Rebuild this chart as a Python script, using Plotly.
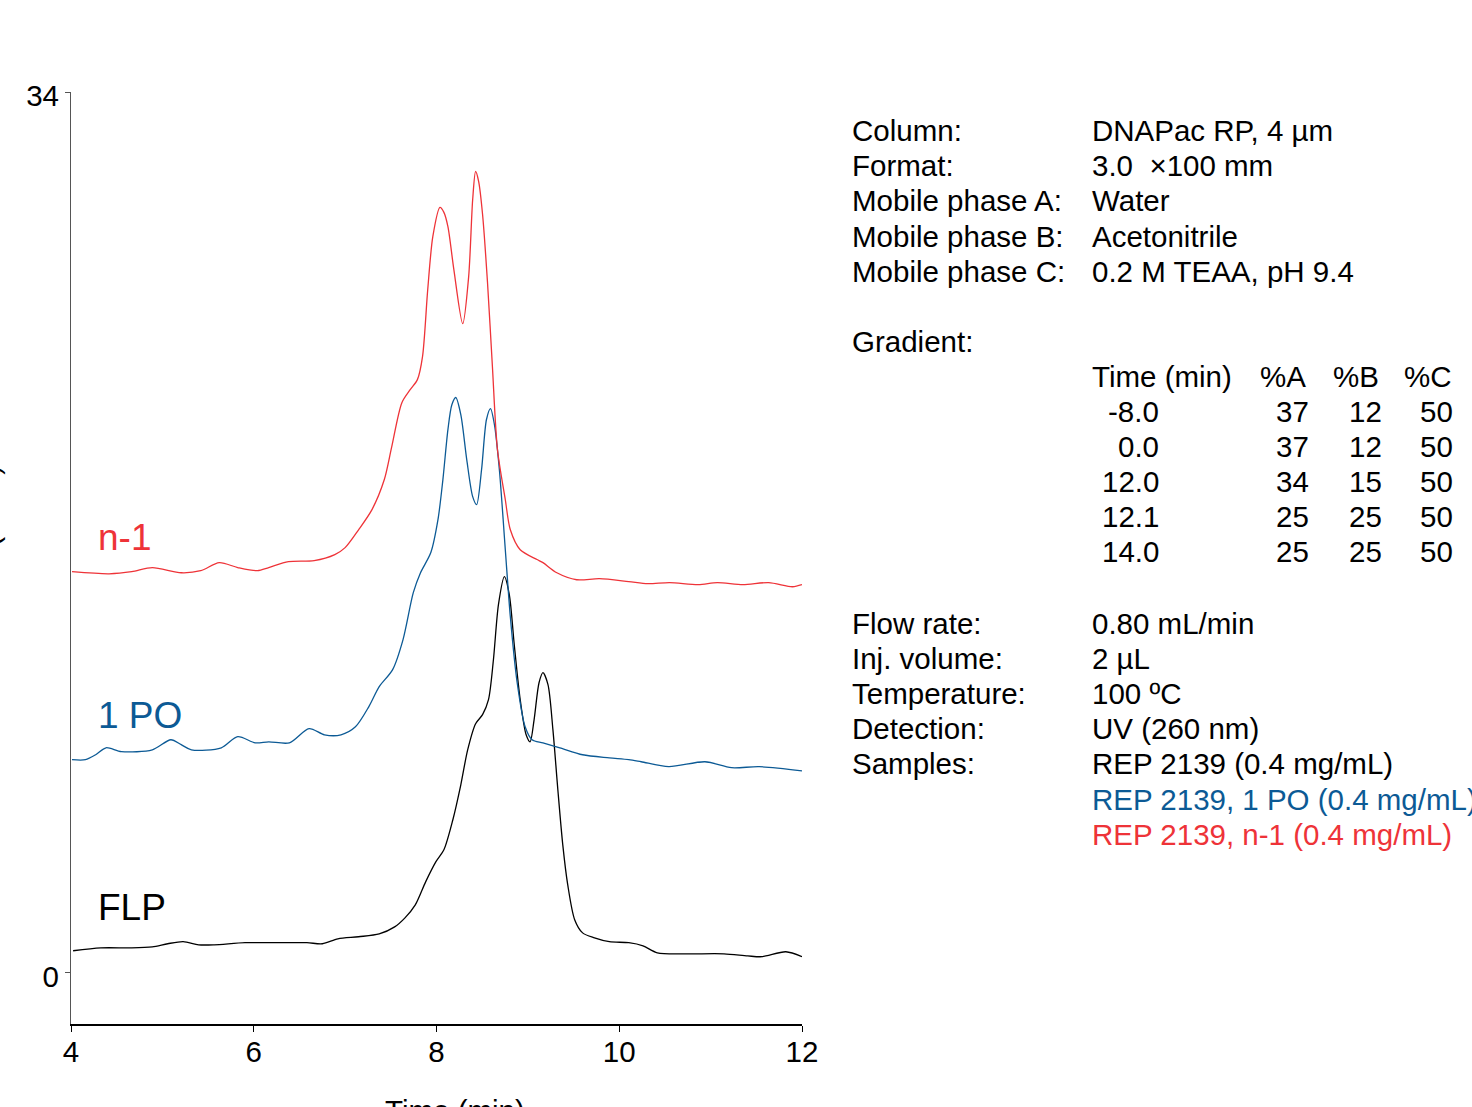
import plotly.graph_objects as go

# ---------------- data (times taken against its tick labels) ----------------
flp_time = [4.023, 4.327, 4.665, 4.890, 5.059, 5.228, 5.397, 5.566, 5.904, 6.243, 6.582, 6.751, 6.921, 7.147,
            7.373, 7.542, 7.655, 7.768, 7.881, 7.994, 8.081, 8.179, 8.266, 8.341, 8.428, 8.504, 8.569, 8.623,
            8.678, 8.743, 8.797, 8.851, 8.916, 8.981, 9.024, 9.068, 9.122, 9.165, 9.220, 9.274, 9.328, 9.382,
            9.436, 9.512, 9.599, 9.729, 9.892, 10.104, 10.260, 10.417, 10.729, 11.146, 11.406, 11.563, 11.823,
            12.000]
flp_abs = [0.83, 0.94, 0.94, 0.98, 1.10, 1.18, 1.06, 1.06, 1.14, 1.14, 1.14, 1.10, 1.29, 1.37,
           1.48, 1.75, 2.10, 2.60, 3.49, 4.27, 4.73, 5.89, 7.24, 8.59, 9.60, 9.95, 10.53, 12.07,
           14.20, 15.28, 14.58, 12.65, 10.53, 9.17, 8.90, 9.75, 11.18, 11.57, 11.11, 9.37, 7.05, 4.92,
           3.38, 2.03, 1.52, 1.33, 1.18, 1.14, 1.02, 0.75, 0.71, 0.71, 0.63, 0.60, 0.79,
           0.60]

po_time = [4.011, 4.158, 4.270, 4.383, 4.552, 4.890, 5.093, 5.206, 5.318, 5.645, 5.825, 6.017, 6.164, 6.390,
           6.605, 6.774, 6.955, 7.113, 7.260, 7.373, 7.520, 7.633, 7.746, 7.825, 7.938, 8.016, 8.070, 8.125,
           8.168, 8.211, 8.266, 8.331, 8.396, 8.439, 8.493, 8.547, 8.591, 8.634, 8.688, 8.753, 8.808, 8.883,
           8.970, 9.046, 9.165, 9.350, 9.599, 9.892, 10.104, 10.240, 10.542, 10.938, 11.229, 11.531, 12.000]
po_abs = [8.21, 8.21, 8.40, 8.67, 8.52, 8.59, 8.98, 8.79, 8.59, 8.67, 9.10, 8.86, 8.90, 8.86,
          9.41, 9.17, 9.17, 9.48, 10.26, 11.03, 11.69, 12.84, 14.66, 15.43, 16.21, 17.48, 19.03, 20.96,
          21.92, 22.20, 21.54, 19.80, 18.37, 18.06, 19.41, 21.35, 21.77, 21.15, 19.41, 16.32, 13.73, 11.18,
          9.48, 8.98, 8.86, 8.67, 8.40, 8.28, 8.21, 8.13, 7.94, 8.13, 7.90, 7.94, 7.78]

n1_time = [4.011, 4.417, 4.665, 4.890, 5.206, 5.420, 5.623, 5.825, 6.040, 6.164, 6.379, 6.661, 6.887, 7.000,
           7.147, 7.294, 7.429, 7.508, 7.621, 7.712, 7.791, 7.847, 7.904, 7.960, 8.038, 8.081, 8.125, 8.190,
           8.287, 8.352, 8.396, 8.428, 8.461, 8.504, 8.558, 8.612, 8.667, 8.753, 8.808, 8.916, 9.100,
           9.165, 9.317, 9.534, 9.783, 10.104, 10.313, 10.552, 10.865, 11.073, 11.354, 11.635, 11.896, 12.000]
n1_abs = [15.47, 15.39, 15.47, 15.63, 15.43, 15.51, 15.82, 15.63, 15.51, 15.63, 15.86, 15.90, 16.13, 16.40,
          17.09, 17.87, 19.03, 20.26, 22.00, 22.50, 22.89, 23.78, 26.37, 28.42, 29.54, 29.35, 28.80, 27.14,
          25.05, 26.87, 29.85, 30.93, 30.55, 29.28, 26.65, 23.39, 20.19, 18.25, 17.09, 16.32, 15.94,
          15.82, 15.43, 15.16, 15.20, 15.09, 15.01, 15.05, 14.97, 15.05, 14.97, 15.05, 14.89, 14.97]

x_ticks = [4, 6, 8, 10, 12]
y_ticks = [0, 34]

trace_labels = ["FLP", "1 PO", "n-1"]
trace_label_pos = [(4.27, 2.5), (4.27, 9.9), (4.27, 16.8)]

cond_labels = ["Column:", "Format:", "Mobile phase A:", "Mobile phase B:", "Mobile phase C:"]
cond_values = ["DNAPac RP, 4 µm", "3.0  \u00d7100 mm", "Water", "Acetonitrile", "0.2 M TEAA, pH 9.4"]

grad_time = ["-8.0", "0.0", "12.0", "12.1", "14.0"]
grad_A = ["37", "37", "34", "25", "25"]
grad_B = ["12", "12", "15", "25", "25"]
grad_C = ["50", "50", "50", "50", "50"]

run_labels = ["Flow rate:", "Inj. volume:", "Temperature:", "Detection:", "Samples:"]
run_values = ["0.80 mL/min", "2 µL", "100 ºC", "UV (260 nm)", "REP 2139 (0.4 mg/mL)"]
sample_extra = ["REP 2139, 1 PO (0.4 mg/mL)", "REP 2139, n-1 (0.4 mg/mL)"]

# ---------------- styling ----------------
BLACK = "#000000"
BLUE = "#0C5A95"
RED = "#EE3338"
FONT = "Arial, 'Liberation Sans', sans-serif"
W, H = 1472, 1107
L, R, T, B = 71, 670, 92, 83
PW, PH = W - L - R, H - T - B


def px_x(px):
    return (px - L) / PW


def px_y(py):
    return (H - B - py) / PH


fig = go.Figure()
for t, a, c in [(flp_time, flp_abs, BLACK), (po_time, po_abs, BLUE), (n1_time, n1_abs, RED)]:
    fig.add_trace(go.Scatter(x=t, y=a, mode="lines",
                             line=dict(color=c, width=1.3, shape="spline", smoothing=0.8),
                             showlegend=False, hoverinfo="skip"))

ann = []
for lab, (tx, ty), c in zip(trace_labels, trace_label_pos, [BLACK, BLUE, RED]):
    ann.append(dict(x=tx, y=ty, xref="x", yref="y", text=lab, showarrow=False,
                    xanchor="left", yanchor="middle", font=dict(size=37, color=c, family=FONT)))

FS = 29.5
COL1, COL2 = 850, 1090


def txt(px, py, s, anchor="left", color=BLACK):
    ann.append(dict(x=px_x(px), y=px_y(py), xref="paper", yref="paper", text=s, showarrow=False,
                    xanchor=anchor, yanchor="middle", font=dict(size=FS, color=color, family=FONT)))


row_y = [130, 165.5, 200.5, 236, 271]
for yy, lab, val in zip(row_y, cond_labels, cond_values):
    txt(COL1, yy, lab)
    txt(COL2, yy, val)

txt(COL1, 341, "Gradient:")
txt(COL2, 376, "Time (min)")
txt(1308, 376, "%A", "right")
txt(1381, 376, "%B", "right")
txt(1454, 376, "%C", "right")
g_y = [411.5, 446.5, 481.5, 516.5, 551.5]
for yy, gt, ga, gb, gc in zip(g_y, grad_time, grad_A, grad_B, grad_C):
    txt(1161, yy, gt, "right")
    txt(1311, yy, ga, "right")
    txt(1384, yy, gb, "right")
    txt(1455, yy, gc, "right")

r_y = [623, 658, 693, 728, 763.5]
for yy, lab, val in zip(r_y, run_labels, run_values):
    txt(COL1, yy, lab)
    txt(COL2, yy, val)
txt(COL2, 799, sample_extra[0], color=BLUE)
txt(COL2, 834, sample_extra[1], color=RED)

# axis titles (mostly clipped by the page edge in the original)
ann.append(dict(x=px_x(455), y=px_y(1092), xref="paper", yref="paper", text="Time (min)",
                showarrow=False, xanchor="center", yanchor="top",
                font=dict(size=FS, color=BLACK, family=FONT)))
ann.append(dict(x=px_x(6), y=px_y(585), xref="paper", yref="paper", text="Absorbance (mAU)",
                showarrow=False, xanchor="right", yanchor="middle", textangle=-90,
                font=dict(size=28, color=BLACK, family=FONT)))

fig.update_layout(
    width=W, height=H,
    margin=dict(l=L, r=R, t=T, b=B, pad=0),
    plot_bgcolor="white", paper_bgcolor="white",
    font=dict(family=FONT, size=FS, color=BLACK),
    annotations=ann,
    xaxis=dict(range=[4, 12], tickvals=x_ticks, ticktext=[str(v) for v in x_ticks],
               showgrid=False, zeroline=False, showline=True, linecolor="#000000", linewidth=1.5,
               ticks="outside", ticklen=6, tickwidth=1, tickcolor="#000000",
               ticklabelstandoff=-5, tickfont=dict(size=FS, family=FONT, color=BLACK)),
    yaxis=dict(range=[-2.0, 34.0], tickvals=y_ticks, ticktext=[str(v) for v in y_ticks],
               showgrid=False, zeroline=False, showline=True, linecolor="#555555", linewidth=1.2,
               ticks="outside", ticklen=5, tickwidth=1, tickcolor="#555555",
               ticklabelstandoff=0, ticklabelshift=4,
               tickfont=dict(size=FS, family=FONT, color=BLACK)),
)

fig.write_html("out.html")
